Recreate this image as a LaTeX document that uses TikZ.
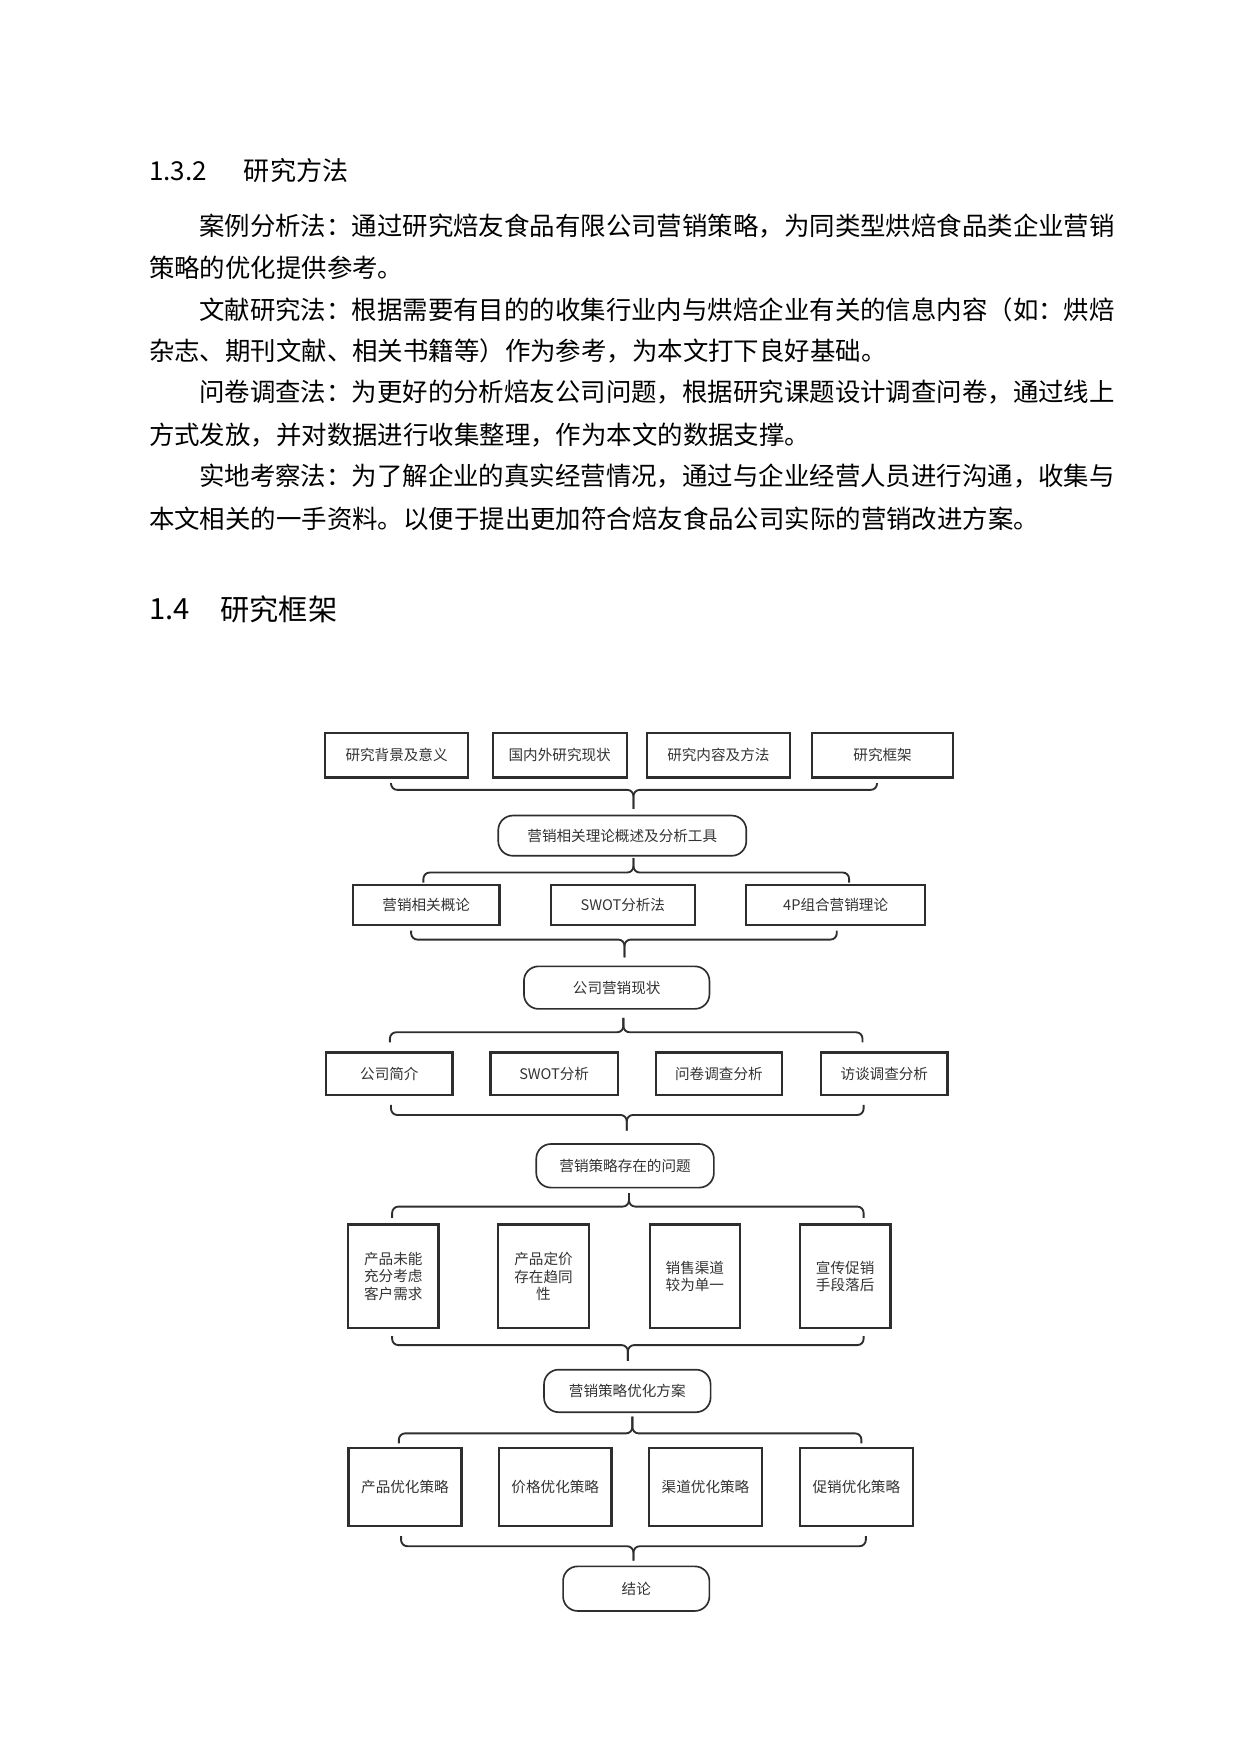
\documentclass[tikz,border=0pt]{standalone}
\usepackage{fontspec}
\setmainfont{Noto Sans CJK SC}
\definecolor{boxgray}{HTML}{2E2E2E}
\definecolor{textgray}{HTML}{333333}

% one brace: ends at yEnd, bar at yBar, stem down/up to yTip
\newcommand{\bracepath}[6]{%
  \draw[bracel] (#1,#4) -- (#1,#5) -- (#3,#5) -- (#3,#6);
  \draw[bracel] (#2,#4) -- (#2,#5) -- (#3,#5) -- (#3,#6);}

\begin{document}
\begin{tikzpicture}[x=0.536pt, y=-0.536pt,
    every node/.style={inner sep=0pt},
    box/.style={draw=boxgray, line width=1.1pt, font=\fontsize{7}{8.6}\selectfont, text=textgray, align=center},
    term/.style={draw=boxgray, line width=0.8pt, rounded corners=7pt, font=\fontsize{7}{8.6}\selectfont, text=textgray},
    bracel/.style={draw=boxgray, line width=0.9pt, rounded corners=3pt},
    body/.style={anchor=west, font=\fontsize{12.2}{14}\selectfont}]

    \useasboundingbox (0,0) rectangle (1110,1570);

    % Section 1.3.2 and its text
    \node[anchor=west, font=\fontsize{12.5}{14}\selectfont] (h1) at (133,153) {1.3.2};
    \node[anchor=west, font=\fontsize{12.5}{14}\selectfont] (h1t) at (218,153) {研究方法};
    \node[body] (l1) at (178,202) {案例分析法：通过研究焙友食品有限公司营销策略，为同类型烘焙食品类企业营销};
    \node[body] (l2) at (133,240) {策略的优化提供参考。};
    \node[body] (l3) at (178,277) {文献研究法：根据需要有目的的收集行业内与烘焙企业有关的信息内容（如：烘焙};
    \node[body] (l4) at (133,314) {杂志、期刊文献、相关书籍等）作为参考，为本文打下良好基础。};
    \node[body] (l5) at (178,351) {问卷调查法：为更好的分析焙友公司问题，根据研究课题设计调查问卷，通过线上};
    \node[body] (l6) at (133,389) {方式发放，并对数据进行收集整理，作为本文的数据支撑。};
    \node[body] (l7) at (178,426) {实地考察法：为了解企业的真实经营情况，通过与企业经营人员进行沟通，收集与};
    \node[body] (l8) at (133,464) {本文相关的一手资料。以便于提出更加符合焙友食品公司实际的营销改进方案。};

    % Section 1.4
    \node[anchor=west, font=\fontsize{14}{16}\selectfont] (h2) at (133,545) {1.4};
    \node[anchor=west, font=\fontsize{14}{16}\selectfont] (h2t) at (197,545) {研究框架};

    % Row 1: introduction
    \node[box, minimum width=68.6pt, minimum height=21.4pt] (bg)    at (355,676) {研究背景及意义};
    \node[box, minimum width=64.3pt, minimum height=21.4pt] (lit)   at (501,676) {国内外研究现状};
    \node[box, minimum width=68.6pt, minimum height=21.4pt] (meth)  at (643,676) {研究内容及方法};
    \node[box, minimum width=67.5pt, minimum height=21.4pt] (frame) at (790,676) {研究框架};
    \bracepath{350}{785}{567}{701}{707}{724}

    % theory
    \node[term, minimum width=119pt, minimum height=19.3pt] (theory) at (557,748) {营销相关理论概述及分析工具};
    \bracepath{379}{760}{567}{790}{781}{768}

    % Row 2
    \node[box, minimum width=70.2pt, minimum height=19.3pt] (concept) at (381.5,810) {营销相关概论};
    \node[box, minimum width=69.1pt, minimum height=19.3pt] (swotm)   at (557.5,810) {SWOT分析法};
    \node[box, minimum width=85.8pt, minimum height=19.3pt] (fourp)   at (748,810)   {4P组合营销理论};
    \bracepath{368}{749}{559}{833}{841}{857}

    % status
    \node[term, minimum width=89pt, minimum height=20.4pt] (status) at (552,884) {公司营销现状};
    \bracepath{349}{772}{558}{933}{924}{911}

    % Row 3
    \node[box, minimum width=60.6pt, minimum height=20.4pt] (intro) at (348.5,961) {公司简介};
    \node[box, minimum width=61.1pt, minimum height=20.4pt] (swota) at (496,961)   {SWOT分析};
    \node[box, minimum width=60.6pt, minimum height=20.4pt] (quest) at (643.5,961) {问卷调查分析};
    \node[box, minimum width=60.6pt, minimum height=20.4pt] (intv)  at (791.5,961) {访谈调查分析};
    \bracepath{350}{773}{561}{989}{998}{1012}

    % problems
    \node[term, minimum width=85.2pt, minimum height=20.9pt] (prob) at (559.5,1043.5) {营销策略存在的问题};
    \bracepath{351}{773}{563}{1090}{1080}{1068}

    % Row 4: tall boxes
    \node[box, minimum width=43.4pt, minimum height=49.8pt] (pa) at (352,1142.5)   {产品未能\\充分考虑\\客户需求};
    \node[box, minimum width=43.4pt, minimum height=49.8pt] (pb) at (486.5,1142.5) {产品定价\\存在趋同\\性};
    \node[box, minimum width=43.4pt, minimum height=49.8pt] (pc) at (622,1142.5)   {销售渠道\\较为单一};
    \node[box, minimum width=43.4pt, minimum height=49.8pt] (pd) at (756.5,1142.5) {宣传促销\\手段落后};
    \bracepath{351}{773}{562}{1196}{1204}{1218}

    % plan
    \node[term, minimum width=79.9pt, minimum height=20.4pt] (plan) at (561.5,1245) {营销策略优化方案};
    \bracepath{357}{771}{566}{1292}{1283}{1268}

    % Row 5
    \node[box, minimum width=54.1pt, minimum height=37.5pt] (sa) at (362.5,1331) {产品优化策略};
    \node[box, minimum width=54.1pt, minimum height=37.5pt] (sb) at (497,1331)   {价格优化策略};
    \node[box, minimum width=54.1pt, minimum height=37.5pt] (sc) at (631.5,1331) {渠道优化策略};
    \node[box, minimum width=54.1pt, minimum height=37.5pt] (sd) at (766.5,1331) {促销优化策略};
    \bracepath{359}{775}{567}{1375}{1384}{1397}

    % end
    \node[term, minimum width=70.2pt, minimum height=21.4pt] (concl) at (569.5,1422) {结论};

\end{tikzpicture}
\end{document}
